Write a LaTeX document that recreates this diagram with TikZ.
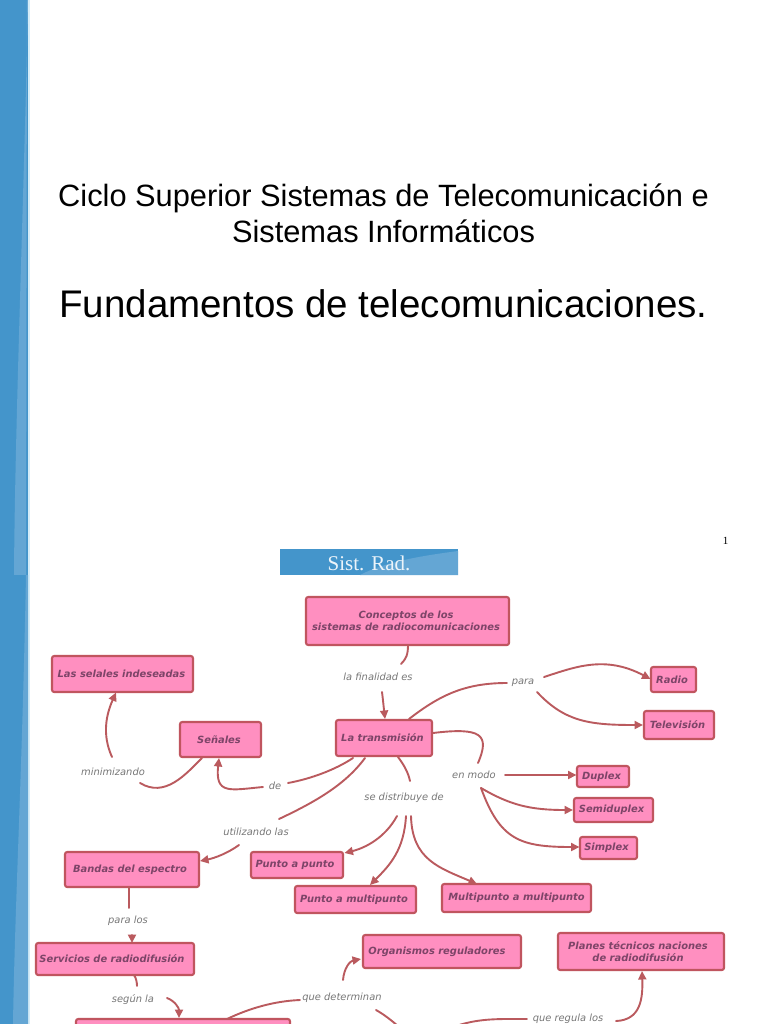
\documentclass[tikz,border=0pt]{standalone}
\usepackage{fontspec}
\setmainfont{Liberation Sans}
\newfontfamily\serifx{Liberation Serif}
\newfontfamily\dejav{DejaVu Sans}
\usetikzlibrary{arrows.meta,calc}
\definecolor{bandD}{HTML}{4495CB}
\definecolor{bandL}{HTML}{64A6D4}
\definecolor{fringe}{HTML}{D5ECF8}
\definecolor{boxF}{HTML}{FF8FC0}
\definecolor{boxE}{HTML}{C0555F}
\definecolor{boxT}{HTML}{7D4468}
\definecolor{lnC}{HTML}{BA5A5E}
\definecolor{labC}{HTML}{777777}
\tikzset{
 x=1pt,y=-1pt,
 cbox/.style={draw=boxE,fill=boxF,line width=2.1pt,rounded corners=2.2pt,inner sep=0pt,align=center,
   text=boxT,font=\dejav\itshape\bfseries\fontsize{9.9}{12}\selectfont},
 clab/.style={inner sep=0pt,text=labC,text height=7pt,text depth=0.6pt,font=\dejav\itshape\fontsize{9.9}{12}\selectfont},
 ln/.style={draw=lnC,line width=1.9pt,line cap=round},
 la/.style={ln,-{Triangle[length=8.5pt,width=8pt]}},
}
\newcommand\bx[6]{%
 \pgfmathsetmacro\bxw{#4-#2}\pgfmathsetmacro\bxh{#5-#3}%
 \node[cbox,minimum width=\bxw pt,minimum height=\bxh pt] (#1) at ({(#2+#4)/2},{(#3+#5)/2}) {#6};}
\newcommand\lft[1]{\hspace*{#1pt}}
\begin{document}
\begin{tikzpicture}
\useasboundingbox (0,0) rectangle (768,1024);
\clip (0,0) rectangle (768,1024);
\fill[white] (0,0) rectangle (768,1024);
% side band
\fill[fringe] (27,0) rectangle (30,1024);
\fill[bandD] (0,0) rectangle (28,1024);
\fill[bandL] (28,0) .. controls (24,200) and (15,420) .. (14,575) -- (26,575) -- (27,0) -- cycle;
\fill[bandD] (14,575) rectangle (28,580);
\fill[bandL] (28,575) -- (28,1024) -- (13,1024) .. controls (15,900) and (22,780) .. (26,575) -- cycle;
% titles
\node[inner sep=0pt,align=center,font=\fontsize{30.8}{36}\selectfont] (t1) at (383.5,213) {Ciclo Superior Sistemas de Telecomunicación e\\Sistemas Informáticos};
\node[inner sep=0pt,font=\fontsize{38.5}{44}\selectfont] (t2) at (383.5,304) {Fundamentos de telecomunicaciones.};
\node[inner sep=0pt,font=\serifx\fontsize{11}{13}\selectfont] (pg) at (725.5,541) {1};
% banner
\fill[bandD] (280,549) rectangle (458,575);
\fill[bandL] (458,551) .. controls (420,556) and (385,562) .. (360,575) -- (458,575) -- cycle;
\node[inner sep=0pt,text=white!90!bandD,font=\serifx\fontsize{21}{24}\selectfont] (ban) at (369,563) {Sist. Rad.};
% boxes
\bx{conc}{306}{597}{509}{645}{Conceptos de los\lft{3}\\sistemas de radiocomunicaciones\lft{3}}
\bx{selales}{52}{656}{193}{692}{Las selales indeseadas\lft{2}}
\bx{senales}{180}{722}{261}{757}{Señales\lft{3}}
\bx{trans}{336}{720}{432}{756}{La transmisión\lft{3}}
\bx{radio}{651}{667}{696}{692}{Radio\lft{3}}
\bx{tele}{644}{711}{714}{739}{Televisión\lft{3}}
\bx{duplex}{577}{766}{629}{787}{Duplex\lft{3}}
\bx{semi}{574}{798}{653}{822}{Semiduplex\lft{4}}
\bx{simplex}{580}{837}{637}{859}{Simplex\lft{4}}
\bx{pap}{251}{852}{343}{878}{Punto a punto\lft{4}}
\bx{pam}{295}{886}{416}{913}{Punto a multipunto\lft{3}}
\bx{mam}{442}{884}{591}{912}{Multipunto a multipunto}
\bx{bandas}{65}{852}{199}{887}{Bandas del espectro\lft{4}}
\bx{serv}{36}{943}{194}{975}{Servicios de radiodifusión\lft{6}}
\bx{org}{363}{935}{521}{968}{Organismos reguladores\lft{10}}
\bx{planes}{558}{933}{724}{970}{Planes técnicos naciones\lft{6}\\de radiodifusión\lft{6}}
\bx{bottom}{76}{1019}{290}{1041}{}
% labels
\node[clab] (fin) at (378,677) {la finalidad es};
\node[clab] (para) at (523,681) {para};
\node[clab] (modo) at (474,775) {en modo};
\node[clab] (dist) at (404,797) {se distribuye de};
\node[clab] (de) at (275,786) {de};
\node[clab] (mini) at (113,772) {minimizando};
\node[clab] (util) at (256,832) {utilizando las};
\node[clab] (paral) at (128,920) {para los};
\node[clab] (segun) at (133,999) {según la};
\node[clab] (det) at (342,997) {que determinan};
\node[clab] (regula) at (568,1018) {que regula los};
\coordinate (offa) at (398,1026);
\coordinate (offb) at (456,1026);
% connectors
\draw[ln] ($(conc)+(.5,24)$) .. controls (408,655) and (406,659) .. ($(fin)+(23,-13)$);
\draw[la] ($(fin)+(4,15)$) .. controls (383,700) and (384,710) .. ($(trans)+(1,-19)$);
\draw[ln] ($(trans)+(25,-19)$) .. controls (440,695) and (465,683) .. ($(para)+(-16,2)$);
\draw[la] ($(para)+(21,-4)$) .. controls (575,667) and (605,655) .. ($(radio)+(-23,-.5)$);
\draw[la] ($(para)+(14,11)$) .. controls (565,722) and (590,725) .. ($(tele)+(-36,0)$);
\draw[ln] ($(trans)+(49,-5)$) .. controls (482,727) and (490,735) .. ($(modo)+(4,-12)$);
\draw[la] ($(modo)+(31,0)$) -- ($(duplex)+(-26.5,-1.5)$);
\draw[la] ($(modo)+(7,13)$) .. controls (510,805) and (530,810) .. ($(semi)+(-40.5,0)$);
\draw[la] ($(modo)+(7,13)$) .. controls (500,840) and (520,847) .. ($(simplex)+(-29,-1)$);
\draw[ln] ($(trans)+(14,19)$) .. controls (404,765) and (408,772) .. ($(dist)+(6,-16)$);
\draw[la] ($(dist)+(-7,19)$) .. controls (385,838) and (365,848) .. ($(pap)+(47.5,-12)$);
\draw[la] ($(dist)+(2,19)$) .. controls (404,850) and (390,865) .. ($(pam)+(14.5,-14.5)$);
\draw[la] ($(dist)+(7,19)$) .. controls (412,860) and (440,868) .. ($(mam)+(-39.5,-14)$);
\draw[ln] ($(trans)+(-31,20)$) .. controls (335,770) and (310,779) .. ($(de)+(13,-3)$);
\draw[la] ($(de)+(-12,1)$) .. controls (230,790) and (215,795) .. ($(senales)+(-1.5,18.5)$);
\draw[ln] ($(senales)+(-18.5,18.5)$) .. controls (185,775) and (165,798) .. ($(mini)+(27,11)$);
\draw[la] ($(mini)+(-1,-15)$) .. controls (102,735) and (106,715) .. ($(selales)+(-6.5,18.5)$);
\draw[ln] ($(trans)+(-19,20)$) .. controls (345,785) and (315,802) .. ($(util)+(23,-13)$);
\draw[la] ($(util)+(-17,13)$) .. controls (228,853) and (215,858) .. ($(bandas)+(68,-8.5)$);
\draw[ln] ($(bandas)+(-3,17.5)$) .. controls (129,893) and (129,900) .. ($(paral)+(1,-12)$);
\draw[la] ($(paral)+(4,15)$) -- ($(serv)+(17,-16)$);
\draw[ln] ($(serv)+(19,16)$) .. controls (136,978) and (137,982) .. ($(segun)+(4,-13)$);
\draw[la] ($(segun)+(34,-1)$) .. controls (175,1001) and (179,1008) .. ($(bottom)+(-4,-12)$);
\draw[ln] ($(bottom)+(44,-11)$) .. controls (250,1008) and (275,1001) .. ($(det)+(-42,3)$);
\draw[la] ($(det)+(1,-17)$) .. controls (344,968) and (350,961) .. ($(org)+(-81,7.5)$);
\draw[ln] ($(det)+(34,13)$) .. controls (385,1015) and (392,1021) .. (offa);
\draw[ln] (offb) .. controls (480,1018) and (500,1019) .. ($(regula)+(-41,1)$);
\draw[la] ($(regula)+(48,3)$) .. controls (640,1020) and (643,1000) .. ($(planes)+(1,19.5)$);
\end{tikzpicture}
\end{document}
